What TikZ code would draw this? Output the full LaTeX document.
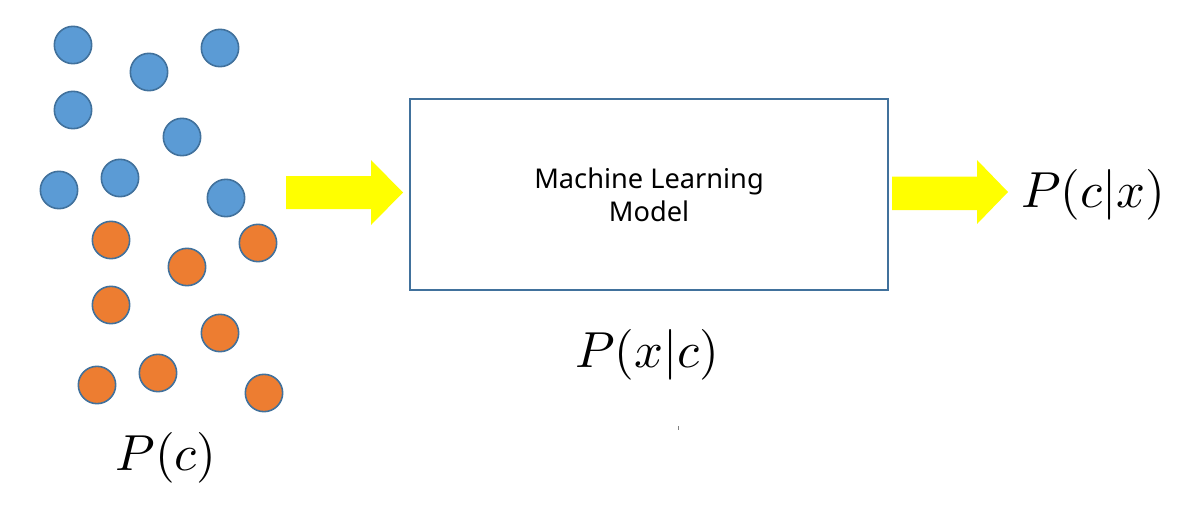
\documentclass[tikz,border=0pt]{standalone}
\usepackage{fontspec}
\setsansfont{Noto Sans}
\usepackage{graphicx}
\usepackage{xcolor}
\usetikzlibrary{positioning,calc}

\definecolor{edgeblue}{HTML}{41719C}
\definecolor{dotblue}{HTML}{5B9BD5}
\definecolor{dotorange}{HTML}{ED7D31}
\definecolor{fatyellow}{HTML}{FFFF00}

\newcommand{\bigmath}[1]{\scalebox{3.8}{$#1$}}

\begin{document}
\begin{tikzpicture}[
    x=0.75pt, y=-0.75pt,
    dot/.style = {
        circle,
        draw=edgeblue,
        line width=1.2pt,
        minimum size=28pt,
        inner sep=0pt
    },
    model_box/.style = {
        rectangle,
        draw=edgeblue,
        line width=1.5pt,
        minimum width=359pt,
        minimum height=143pt
    },
    label_math/.style = {
        inner sep=0pt
    },
    fat_arrow/.style = {
        fill=fatyellow,
        draw=none
    }
]
    \useasboundingbox (0,0) rectangle (1177,517);

    % Sample points
    \foreach \name/\px/\py in {b1/73/45, b2/149/72, b3/220/48, b4/73/110,
                               b5/182/137, b6/59/190, b7/120/178, b8/226/198}
        \node [dot, fill=dotblue] (\name) at (\px,\py) {};
    \foreach \name/\px/\py in {o1/111/240, o2/258/243, o3/187/267, o4/111/305,
                               o5/220/333, o6/158/373, o7/97/385, o8/264/393}
        \node [dot, fill=dotorange] (\name) at (\px,\py) {};

    \node [label_math] (prior) at (166,458) {\bigmath{P(c)}};

    % Model
    \node [model_box] (model) at (649,194.5) {};
    \node [align=center, font=\sffamily\fontsize{20.4}{25}\selectfont] (model_text)
        at (model.center) {Machine Learning\\Model};
    \node [label_math] (likelihood) at (647,355) {\bigmath{P(x|c)}};
    \draw [gray, line width=0.6pt] (678,426) -- (678,430);

    % Output
    \node [label_math, anchor=west] (posterior) at (1021,195) {\bigmath{P(c|x)}};

    % Arrows connecting nodes
    \fill [fat_arrow] (286,176) -- (371,176) -- (371,160) -- (403,192.5)
        -- (371,225) -- (371,209) -- (286,209) -- cycle;
    \fill [fat_arrow] (892,176.5) -- (977,176.5) -- (977,160) -- (1008,192)
        -- (977,224) -- (977,210) -- (892,210) -- cycle;

\end{tikzpicture}
\end{document}
